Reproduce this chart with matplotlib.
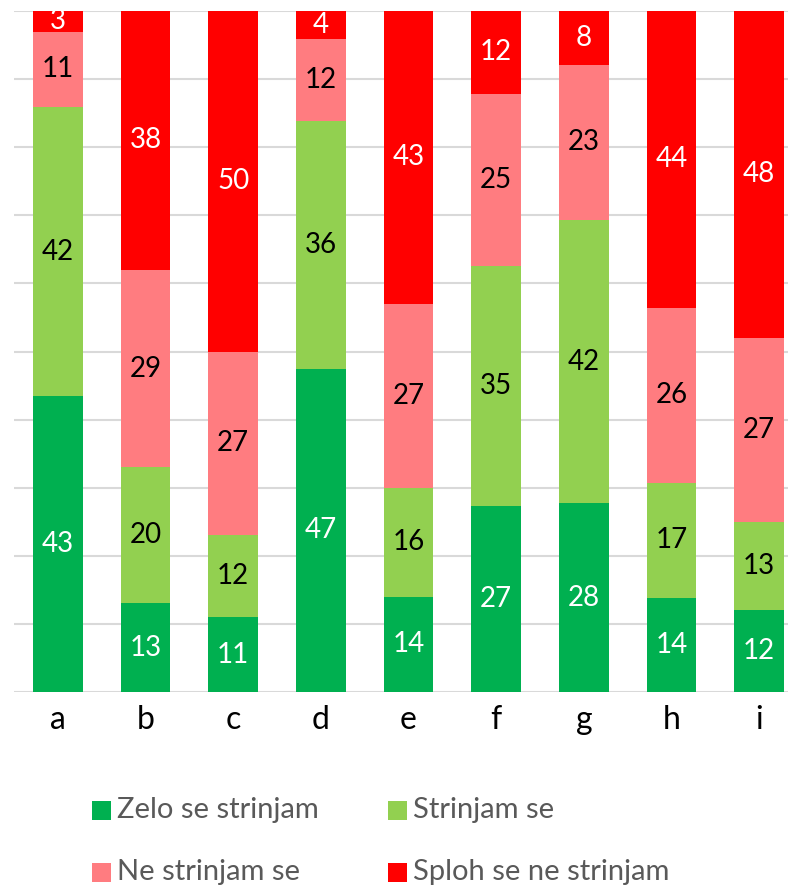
import matplotlib
matplotlib.use("Agg")
import matplotlib.pyplot as plt
from matplotlib.patches import Rectangle
import numpy as np

plt.rcParams['font.family'] = ['Lato', 'DejaVu Sans']

categories = ['a', 'b', 'c', 'd', 'e', 'f', 'g', 'h', 'i']
zelo = [43, 13, 11, 47, 14, 27, 28, 14, 12]
strinjam = [42, 20, 12, 36, 16, 35, 42, 17, 13]
ne_strinjam = [11, 29, 27, 12, 27, 25, 23, 26, 27]
sploh = [3, 38, 50, 4, 43, 12, 8, 44, 48]

series_names = ['Zelo se strinjam', 'Strinjam se', 'Ne strinjam se', 'Sploh se ne strinjam']
colors = ['#00B050', '#92D050', '#FF7C80', '#FF0000']
label_colors = ['white', 'black', 'black', 'white']

data = np.array([zelo, strinjam, ne_strinjam, sploh], dtype=float)
totals = data.sum(axis=0)
pct = data / totals * 100

W, H = 788, 886
fig = plt.figure(figsize=(W / 100, H / 100), dpi=100)
ax = fig.add_axes([14 / W, 1 - 692 / H, (803 - 14) / W, (692 - 11) / H])

x = np.arange(len(categories))
bottom = np.zeros(len(categories))
for i in range(4):
    ax.bar(x, pct[i], bottom=bottom, width=0.57, color=colors[i], zorder=2)
    for j in range(len(categories)):
        ax.text(x[j], bottom[j] + pct[i][j] / 2, f"{int(data[i][j])}",
                ha='center', va='center', color=label_colors[i], fontsize=20, zorder=3)
    bottom += pct[i]

ax.set_xlim(-0.5, len(categories) - 0.5)
ax.set_ylim(0, 100)
ax.set_yticks(np.arange(0, 101, 10))
ax.yaxis.grid(True, color='#D9D9D9', linewidth=1.5, zorder=0)
ax.set_axisbelow(True)
ax.tick_params(axis='y', left=False, labelleft=False)
ax.tick_params(axis='x', bottom=False, labelsize=23, pad=6, labelcolor='black')
ax.set_xticks(x)
ax.set_xticklabels(categories)
for s in ['top', 'right', 'left', 'bottom']:
    ax.spines[s].set_visible(False)

# legend laid out row-wise like the reference
leg_pos = [(92, 810), (388, 810), (92, 872), (388, 872)]
sq = 19
for (lx, ly), c, name in zip(leg_pos, colors, series_names):
    fig.patches.append(Rectangle((lx / W, 1 - (ly + sq / 2) / H), sq / W, sq / H,
                                 transform=fig.transFigure, facecolor=c, edgecolor='none'))
    fig.text((lx + sq + 6) / W, 1 - ly / H, name, ha='left', va='center',
             fontsize=21, color='#595959')

fig.savefig('out.png', dpi=100)
